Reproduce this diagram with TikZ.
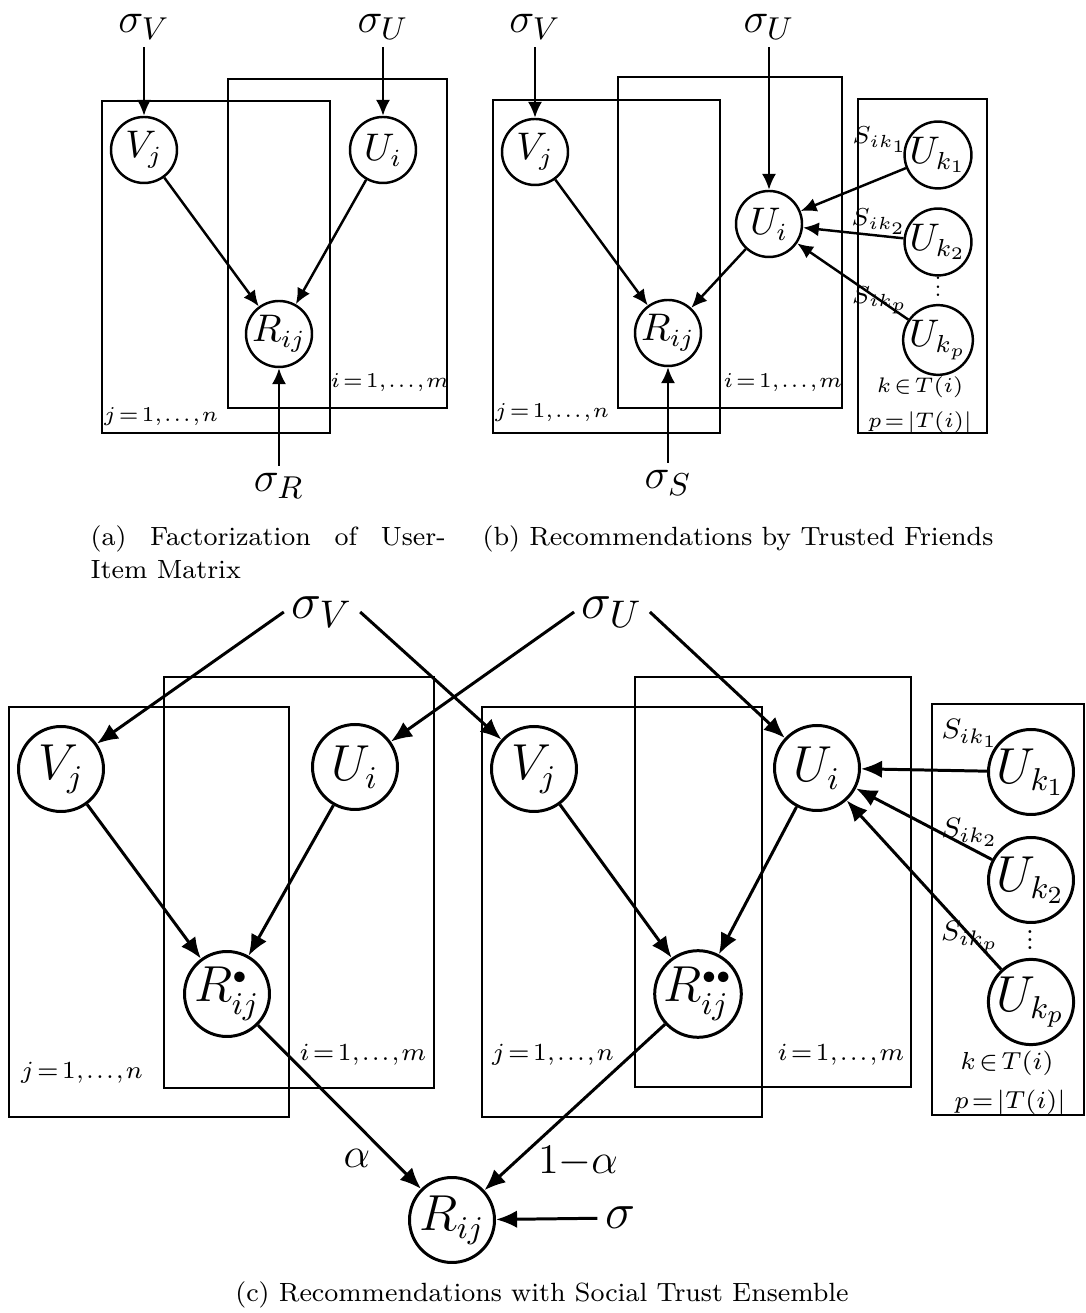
\documentclass[tikz,border=0pt]{standalone}
\usepackage{tikz}
\usetikzlibrary{arrows.meta}

\newcommand{\kdots}{\vbox{\baselineskip=2.4pt\lineskiplimit=-10pt
  \hbox{.}\hbox{.}\hbox{.}}}

\begin{document}
\begin{tikzpicture}[
  var/.style={circle, draw, fill=white, line width=0.7pt, minimum size=0.66cm,
              inner sep=0pt, font=\fontsize{10.5}{12}\selectfont},
  bigvar/.style={var, line width=0.85pt, minimum size=0.85cm,
                 font=\fontsize{13.5}{16}\selectfont},
  hyper/.style={inner sep=2pt, font=\fontsize{12.5}{14}\selectfont},
  bighyper/.style={inner sep=2pt, font=\fontsize{15}{17}\selectfont},
  plate/.style={draw, line width=0.8pt},
  platelbl/.style={inner sep=0pt,
                   font={\fontsize{6}{7}\selectfont\thickmuskip=2mu\thinmuskip=1mu}},
  biglbl/.style={inner sep=0pt,
                 font={\fontsize{7.5}{9}\selectfont\thickmuskip=2mu\thinmuskip=1mu}},
  trust/.style={inner sep=0pt, font=\fontsize{6.8}{8}\selectfont},
  bigtrust/.style={inner sep=0pt, font=\fontsize{8}{9}\selectfont},
  edge/.style={-{Latex[length=4.5pt,width=4pt]}, line width=0.7pt},
  bigedge/.style={-{Latex[length=6pt,width=5pt]}, line width=0.85pt},
  capt/.style={inner sep=0pt, align=left, font=\fontsize{7.5}{9.4}\selectfont},
]
\useasboundingbox (0,0) rectangle (10.85,13.13);

%% ── (a) Factorization of User-Item Matrix ──────────────────────────────────
\draw[plate] (1.02, 8.80) rectangle (3.30, 12.12);
\draw[plate] (2.28, 9.05) rectangle (4.47, 12.34);

\node[var] (Va) at (1.44, 11.63) {$V_j$};
\node[var] (Ua) at (3.83, 11.63) {$U_i$};
\node[var] (Ra) at (2.79, 9.79) {$R_{ij}$};
\node[hyper] (sVa) at (1.44, 12.86) {$\sigma_V$};
\node[hyper] (sUa) at (3.83, 12.86) {$\sigma_U$};
\node[hyper] (sRa) at (2.79, 8.27) {$\sigma_R$};
\node[platelbl] (nja) at (1.61, 8.96) {$j=1,\ldots,n$};
\node[platelbl] (mia) at (3.90, 9.30) {$i=1,\ldots,m$};

\draw[edge] (sVa) -- (Va);
\draw[edge] (sUa) -- (Ua);
\draw[edge] (Va) -- (Ra);
\draw[edge] (Ua) -- (Ra);
\draw[edge] (sRa) -- (Ra);

\node[capt, anchor=north west] (capa) at (0.90, 7.88)
  {\makebox[3.55cm][s]{(a) Factorization of User-}\\Item Matrix};

%% ── (b) Recommendations by Trusted Friends ─────────────────────────────────
\draw[plate] (4.93, 8.80) rectangle (7.20, 12.13);
\draw[plate] (6.18, 9.05) rectangle (8.42, 12.36);
\draw[plate] (8.58, 8.80) rectangle (9.87, 12.14);

\node[var] (Vb) at (5.35, 11.61) {$V_j$};
\node[var] (Ub) at (7.69, 10.89) {$U_i$};
\node[var] (Rb) at (6.68, 9.80) {$R_{ij}$};
\node[var] (Uk1b) at (9.38, 11.58) {$U_{k_1}$};
\node[var] (Uk2b) at (9.38, 10.71) {$U_{k_2}$};
\node[platelbl] (dotsb) at (9.38, 10.26) {\kdots};
\node[var] (Ukpb) at (9.38, 9.73) {$U_{k_p}$};
\node[hyper] (sVb) at (5.35, 12.86) {$\sigma_V$};
\node[hyper] (sUb) at (7.69, 12.86) {$\sigma_U$};
\node[hyper] (sSb) at (6.68, 8.30) {$\sigma_S$};
\node[trust] (S1b) at (8.80, 11.73) {$S_{ik_1}$};
\node[trust] (S2b) at (8.79, 10.91) {$S_{ik_2}$};
\node[trust] (Spb) at (8.80, 10.13) {$S_{ik_p}$};
\node[platelbl] (njb) at (5.52, 9.00) {$j=1,\ldots,n$};
\node[platelbl] (mib) at (7.83, 9.30) {$i=1,\ldots,m$};
\node[platelbl] (kinb) at (9.20, 9.26) {$k\in T(i)$};
\node[platelbl] (pdefb) at (9.20, 8.91) {$p=|T(i)|$};

\draw[edge] (sVb) -- (Vb);
\draw[edge] (sUb) -- (Ub);
\draw[edge] (Vb) -- (Rb);
\draw[edge] (Ub) -- (Rb);
\draw[edge] (sSb) -- (Rb);
\draw[edge] (Uk1b) -- (Ub);
\draw[edge] (Uk2b) -- (Ub);
\draw[edge] (Ukpb) -- (Ub);

\node[capt, anchor=north west] (capb) at (4.82, 7.88)
  {(b) Recommendations by Trusted Friends};

%% ── (c) Recommendations with Social Trust Ensemble ─────────────────────────
\draw[plate] (0.09, 1.96) rectangle (2.89, 6.06);
\draw[plate] (1.64, 2.25) rectangle (4.34, 6.36);
\draw[plate] (4.82, 1.96) rectangle (7.62, 6.06);
\draw[plate] (6.35, 2.26) rectangle (9.11, 6.36);
\draw[plate] (9.32, 1.98) rectangle (10.84, 6.09);

\node[bighyper] (sVc) at (3.22, 7.01) {$\sigma_V$};
\node[bighyper] (sUc) at (6.12, 7.01) {$\sigma_U$};

\node[bigvar] (Vc1) at (0.61, 5.44) {$V_j$};
\node[bigvar] (Uc1) at (3.55, 5.46) {$U_i$};
\node[bigvar] (Rc1) at (2.27, 3.19) {$R_{ij}^{\scriptscriptstyle\bullet}$};
\node[bigvar] (Vc2) at (5.34, 5.44) {$V_j$};
\node[bigvar] (Uc2) at (8.17, 5.45) {$U_i$};
\node[bigvar] (Rc2) at (6.98, 3.19) {$R_{ij}^{\scriptscriptstyle\bullet\bullet}$};
\node[bigvar] (Uk1c) at (10.31, 5.41) {$U_{k_1}$};
\node[bigvar] (Uk2c) at (10.31, 4.33) {$U_{k_2}$};
\node[biglbl] (dotsc) at (10.30, 3.73) {\kdots};
\node[bigvar] (Ukpc) at (10.31, 3.11) {$U_{k_p}$};

\node[bigtrust] (S1c) at (9.70, 5.80) {$S_{ik_1}$};
\node[bigtrust] (S2c) at (9.70, 4.81) {$S_{ik_2}$};
\node[bigtrust] (Spc) at (9.70, 3.76) {$S_{ik_p}$};

\node[biglbl] (njc1) at (0.82, 2.40) {$j=1,\ldots,n$};
\node[biglbl] (mic1) at (3.63, 2.58) {$i=1,\ldots,m$};
\node[biglbl] (njc2) at (5.53, 2.58) {$j=1,\ldots,n$};
\node[biglbl] (mic2) at (8.41, 2.58) {$i=1,\ldots,m$};
\node[biglbl] (kinc) at (10.07, 2.50) {$k\in T(i)$};
\node[biglbl] (pdefc) at (10.10, 2.11) {$p=|T(i)|$};

\node[bigvar] (Rf) at (4.52, 0.93) {$R_{ij}$};
\node[bighyper] (sf) at (6.20, 0.95) {$\sigma$};
\node[hyper, font=\fontsize{11.5}{13}\selectfont] (alpha) at (3.57, 1.55) {$\alpha$};
\node[hyper, font=\fontsize{11.5}{13}\selectfont] (onema) at (5.78, 1.51) {$1{-}\alpha$};

\draw[bigedge] (sVc.west) -- (Vc1);
\draw[bigedge] (sVc.east) -- (Vc2);
\draw[bigedge] (sUc.west) -- (Uc1);
\draw[bigedge] (sUc.east) -- (Uc2);
\draw[bigedge] (Vc1) -- (Rc1);
\draw[bigedge] (Uc1) -- (Rc1);
\draw[bigedge] (Vc2) -- (Rc2);
\draw[bigedge] (Uc2) -- (Rc2);
\draw[bigedge] (Uk1c) -- (Uc2);
\draw[bigedge] (Uk2c) -- (Uc2);
\draw[bigedge] (Ukpc) -- (Uc2);
\draw[bigedge] (Rc1) -- (Rf);
\draw[bigedge] (Rc2) -- (Rf);
\draw[bigedge] (sf) -- (Rf);

\node[capt] (capc) at (5.42, 0.18) {(c) Recommendations with Social Trust Ensemble};

\end{tikzpicture}
\end{document}
